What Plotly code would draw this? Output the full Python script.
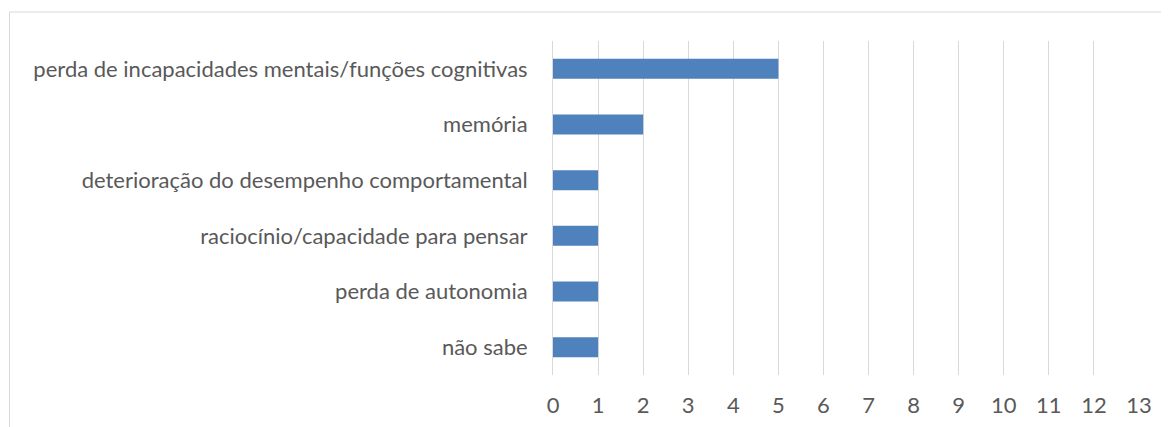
import plotly.graph_objects as go

categories = [
    "perda de incapacidades mentais/funções cognitivas",
    "memória",
    "deterioração do desempenho comportamental",
    "raciocínio/capacidade para pensar",
    "perda de autonomia",
    "não sabe",
]
counts = [5, 2, 1, 1, 1, 1]
x_ticks = list(range(0, 14))

BAR_COLOR = "#4F81BD"
TEXT_COLOR = "#595959"
GRID_COLOR = "#D9D9D9"

fig = go.Figure(
    go.Bar(
        x=counts,
        y=categories,
        orientation="h",
        width=0.36,
        marker={"color": BAR_COLOR, "line": {"width": 0}},
    )
)

# the page body adds an 8px offset, so margins are shifted to compensate
fig.update_layout(
    width=1169,
    height=427,
    plot_bgcolor="white",
    paper_bgcolor="white",
    font={"family": "Lato", "size": 22, "color": TEXT_COLOR},
    margin={"l": 545, "r": 38, "t": 33, "b": 60, "autoexpand": False},
    showlegend=False,
)
fig.update_xaxes(
    range=[0, 13],
    tickvals=x_ticks,
    showgrid=True,
    gridcolor=GRID_COLOR,
    gridwidth=1,
    zeroline=False,
    showline=False,
    ticks="",
    ticklabelstandoff=15,
)
fig.update_yaxes(
    autorange="reversed",
    showgrid=False,
    showline=True,
    linecolor=GRID_COLOR,
    linewidth=1,
    ticks="",
    ticklabelstandoff=20,
)

# chart frame like the original spreadsheet chart
fig.add_shape(
    type="rect",
    xref="paper",
    yref="paper",
    x0=-0.9275,
    x1=1.2,
    y0=-0.5,
    y1=1.0868,
    line={"color": GRID_COLOR, "width": 1},
    layer="below",
)

fig.write_html("out.html")
